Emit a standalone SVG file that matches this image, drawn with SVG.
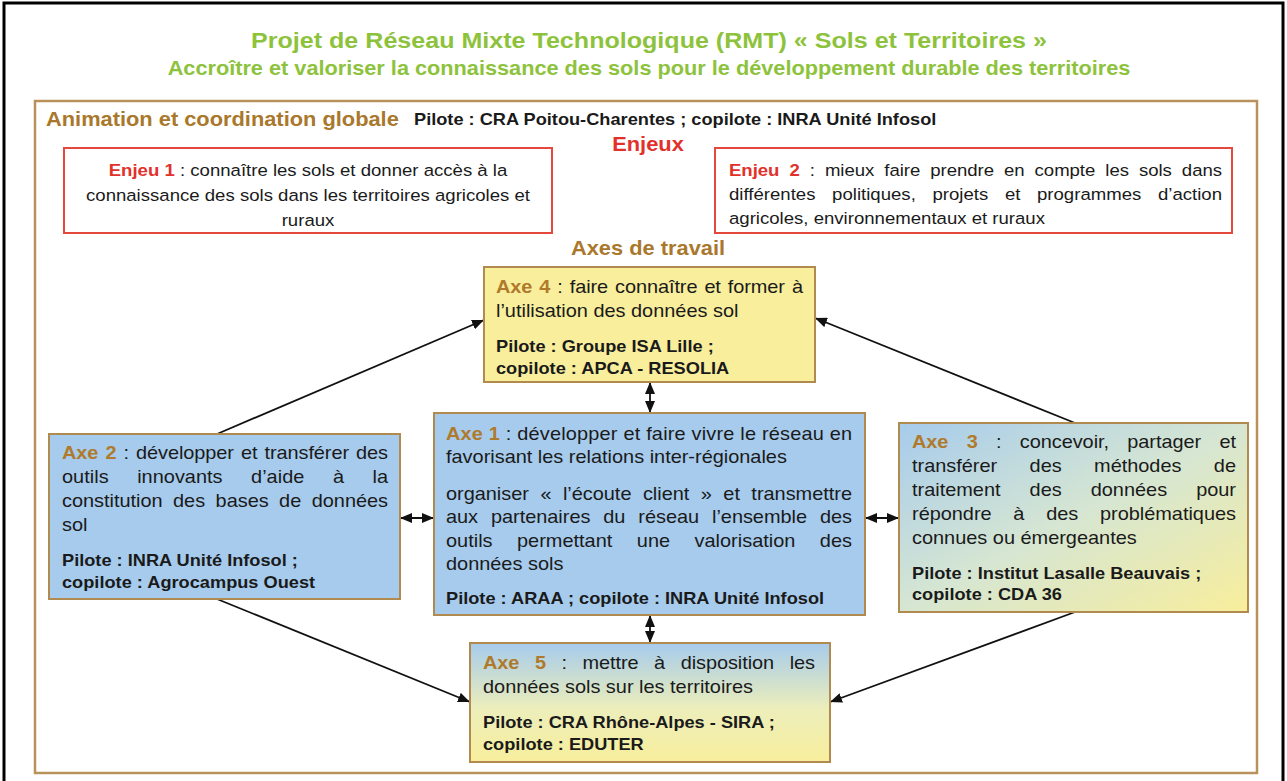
<svg xmlns="http://www.w3.org/2000/svg" width="1287" height="781" viewBox="0 0 1287 781">
<defs>
<style>
text{font-family:"Liberation Sans",Arial,sans-serif;fill:#1a1a1a}
.r{font-size:17.8px}
.b{font-size:16.25px;font-weight:bold}
.ej{font-size:16.6px}
.lbl{font-weight:bold;fill:#b07a2c}
.ejl{font-weight:bold;fill:#e2302a}
.title{font-size:22.4px;font-weight:bold;fill:#8dc33c}
.sub{font-size:19.4px;font-weight:bold;fill:#8dc33c}
.head{font-size:19.5px;font-weight:bold;fill:#a9782c}
.red{font-size:19.5px;font-weight:bold;fill:#e2302a}
.box{stroke:#b08a4e;stroke-width:2}
.enj{fill:#fff;stroke:#e5483c;stroke-width:2}
.con{fill:none;stroke:#111;stroke-width:1.8}
</style>
<marker id="ah" viewBox="0 0 12 10" refX="12" refY="5" markerWidth="12" markerHeight="10" markerUnits="userSpaceOnUse" orient="auto-start-reverse">
<path d="M0,0 L12,5 L0,10 z" fill="#111"/>
</marker>
<linearGradient id="g3" x1="0" y1="0" x2="1" y2="1">
<stop offset="0" stop-color="#a6cbec"/>
<stop offset="0.5" stop-color="#d6e6d2"/>
<stop offset="1" stop-color="#f8ee9c"/>
</linearGradient>
<linearGradient id="g5" x1="0" y1="0" x2="0" y2="1">
<stop offset="0" stop-color="#a6cbec"/>
<stop offset="0.55" stop-color="#eceebb"/>
<stop offset="1" stop-color="#f8ee9c"/>
</linearGradient>
</defs>
<rect width="1287" height="781" fill="#fff"/>
<rect x="4" y="3" width="1279" height="800" fill="none" stroke="#000" stroke-width="3"/>
<rect x="35" y="101" width="1222" height="672" fill="none" stroke="#b8925a" stroke-width="2.5"/>

<g id="titre">
<text class="title" text-anchor="middle" transform="translate(649 48) scale(1.12 1)">Projet de Réseau Mixte Technologique (RMT) « Sols et Territoires »</text>
<text class="sub" text-anchor="middle" transform="translate(649 75) scale(1.12 1)">Accroître et valoriser la connaissance des sols pour le développement durable des territoires</text>
</g>

<g id="animation">
<text class="head" transform="translate(46 126) scale(1.12 1)">Animation et coordination globale</text>
<text class="b" transform="translate(414 125) scale(1.12 1)">Pilote : CRA Poitou-Charentes ; copilote : INRA Unité Infosol</text>
<text class="red" text-anchor="middle" transform="translate(648 151) scale(1.12 1)">Enjeux</text>
<text class="head" text-anchor="middle" transform="translate(648 255) scale(1.12 1)">Axes de travail</text>
</g>

<g id="enjeu1">
<rect class="enj" x="64" y="148" width="488" height="85"/>
<text class="ej" text-anchor="middle" transform="translate(308 176) scale(1.12 1)"><tspan class="ejl">Enjeu 1</tspan> : connaître les sols et donner accès à la</text>
<text class="ej" text-anchor="middle" transform="translate(308 201) scale(1.12 1)">connaissance des sols dans les territoires agricoles et</text>
<text class="ej" text-anchor="middle" transform="translate(308 226) scale(1.12 1)">ruraux</text>
</g>

<g id="enjeu2">
<rect class="enj" x="715" y="148" width="517" height="85"/>
<text class="ej" word-spacing="4.4" textLength="440.2" lengthAdjust="spacing" transform="translate(729 176) scale(1.12 1)"><tspan class="ejl">Enjeu 2</tspan> : mieux faire prendre en compte les sols dans</text>
<text class="ej" word-spacing="10.2" textLength="440.2" lengthAdjust="spacing" transform="translate(729 200) scale(1.12 1)">différentes politiques, projets et programmes d’action</text>
<text class="ej" transform="translate(729 224) scale(1.12 1)">agricoles, environnementaux et ruraux</text>
</g>

<g id="connecteurs">
<line class="con" x1="217" y1="434" x2="484" y2="320" marker-end="url(#ah)"/>
<line class="con" x1="1075" y1="423" x2="815" y2="318" marker-end="url(#ah)"/>
<line class="con" x1="217" y1="599" x2="470" y2="702" marker-end="url(#ah)"/>
<line class="con" x1="1075" y1="612" x2="830" y2="702" marker-end="url(#ah)"/>
<line class="con" x1="650" y1="382" x2="650" y2="413" marker-start="url(#ah)" marker-end="url(#ah)"/>
<line class="con" x1="650" y1="615" x2="650" y2="643" marker-start="url(#ah)" marker-end="url(#ah)"/>
<line class="con" x1="400" y1="518" x2="434" y2="518" marker-start="url(#ah)" marker-end="url(#ah)"/>
<line class="con" x1="865" y1="518" x2="899" y2="518" marker-start="url(#ah)" marker-end="url(#ah)"/>
</g>

<g id="axe4">
<rect class="box" x="484" y="267" width="331" height="115" fill="#f8ee9c"/>
<text class="r" word-spacing="1.4" textLength="274.1" lengthAdjust="spacing" transform="translate(496 293) scale(1.12 1)"><tspan class="lbl">Axe 4</tspan> : faire connaître et former à</text>
<text class="r" transform="translate(496 317) scale(1.12 1)">l’utilisation des données sol</text>
<text class="b" transform="translate(496 352) scale(1.12 1)">Pilote : Groupe ISA Lille ;</text>
<text class="b" transform="translate(496 374) scale(1.12 1)">copilote : APCA - RESOLIA</text>
</g>

<g id="axe2">
<rect class="box" x="49" y="434" width="351" height="165" fill="#a6cbec"/>
<text class="r" word-spacing="1.5" textLength="291.1" lengthAdjust="spacing" transform="translate(62 459) scale(1.12 1)"><tspan class="lbl">Axe 2</tspan> : développer et transférer des</text>
<text class="r" word-spacing="20.5" textLength="291.1" lengthAdjust="spacing" transform="translate(62 483) scale(1.12 1)">outils innovants d’aide à la</text>
<text class="r" word-spacing="4.4" textLength="291.1" lengthAdjust="spacing" transform="translate(62 507) scale(1.12 1)">constitution des bases de données</text>
<text class="r" transform="translate(62 531) scale(1.12 1)">sol</text>
<text class="b" transform="translate(62 566) scale(1.12 1)">Pilote : INRA Unité Infosol ;</text>
<text class="b" transform="translate(62 588) scale(1.12 1)">copilote : Agrocampus Ouest</text>
</g>

<g id="axe1">
<rect class="box" x="434" y="413" width="431" height="202" fill="#a6cbec"/>
<text class="r" textLength="362.5" lengthAdjust="spacing" transform="translate(446 440) scale(1.12 1)"><tspan class="lbl">Axe 1</tspan> : développer et faire vivre le réseau en</text>
<text class="r" transform="translate(446 463) scale(1.12 1)">favorisant les relations inter-régionales</text>
<text class="r" word-spacing="5.3" textLength="362.5" lengthAdjust="spacing" transform="translate(446 500) scale(1.12 1)">organiser « l’écoute client » et transmettre</text>
<text class="r" word-spacing="6.6" textLength="362.5" lengthAdjust="spacing" transform="translate(446 523) scale(1.12 1)">aux partenaires du réseau l’ensemble des</text>
<text class="r" word-spacing="16.9" textLength="362.5" lengthAdjust="spacing" transform="translate(446 547) scale(1.12 1)">outils permettant une valorisation des</text>
<text class="r" transform="translate(446 570) scale(1.12 1)">données sols</text>
<text class="b" transform="translate(446 604) scale(1.12 1)">Pilote : ARAA ; copilote : INRA Unité Infosol</text>
</g>

<g id="axe3">
<rect class="box" x="899" y="423" width="349" height="189" fill="url(#g3)"/>
<text class="r" word-spacing="11.4" textLength="289.3" lengthAdjust="spacing" transform="translate(912 448) scale(1.12 1)"><tspan class="lbl">Axe 3</tspan> : concevoir, partager et</text>
<text class="r" word-spacing="24" textLength="289.3" lengthAdjust="spacing" transform="translate(912 472) scale(1.12 1)">transférer des méthodes de</text>
<text class="r" word-spacing="21" textLength="289.3" lengthAdjust="spacing" transform="translate(912 496) scale(1.12 1)">traitement des données pour</text>
<text class="r" word-spacing="14.5" textLength="289.3" lengthAdjust="spacing" transform="translate(912 520) scale(1.12 1)">répondre à des problématiques</text>
<text class="r" transform="translate(912 544) scale(1.12 1)">connues ou émergeantes</text>
<text class="b" transform="translate(912 579) scale(1.12 1)">Pilote : Institut Lasalle Beauvais ;</text>
<text class="b" transform="translate(912 600) scale(1.12 1)">copilote : CDA 36</text>
</g>

<g id="axe5">
<rect class="box" x="470" y="643" width="360" height="119" fill="url(#g5)"/>
<text class="r" word-spacing="9" textLength="296.4" lengthAdjust="spacing" transform="translate(483 669) scale(1.12 1)"><tspan class="lbl">Axe 5</tspan> : mettre à disposition les</text>
<text class="r" transform="translate(483 693) scale(1.12 1)">données sols sur les territoires</text>
<text class="b" transform="translate(483 728) scale(1.12 1)">Pilote : CRA Rhône-Alpes - SIRA ;</text>
<text class="b" transform="translate(483 750) scale(1.12 1)">copilote : EDUTER</text>
</g>
</svg>
